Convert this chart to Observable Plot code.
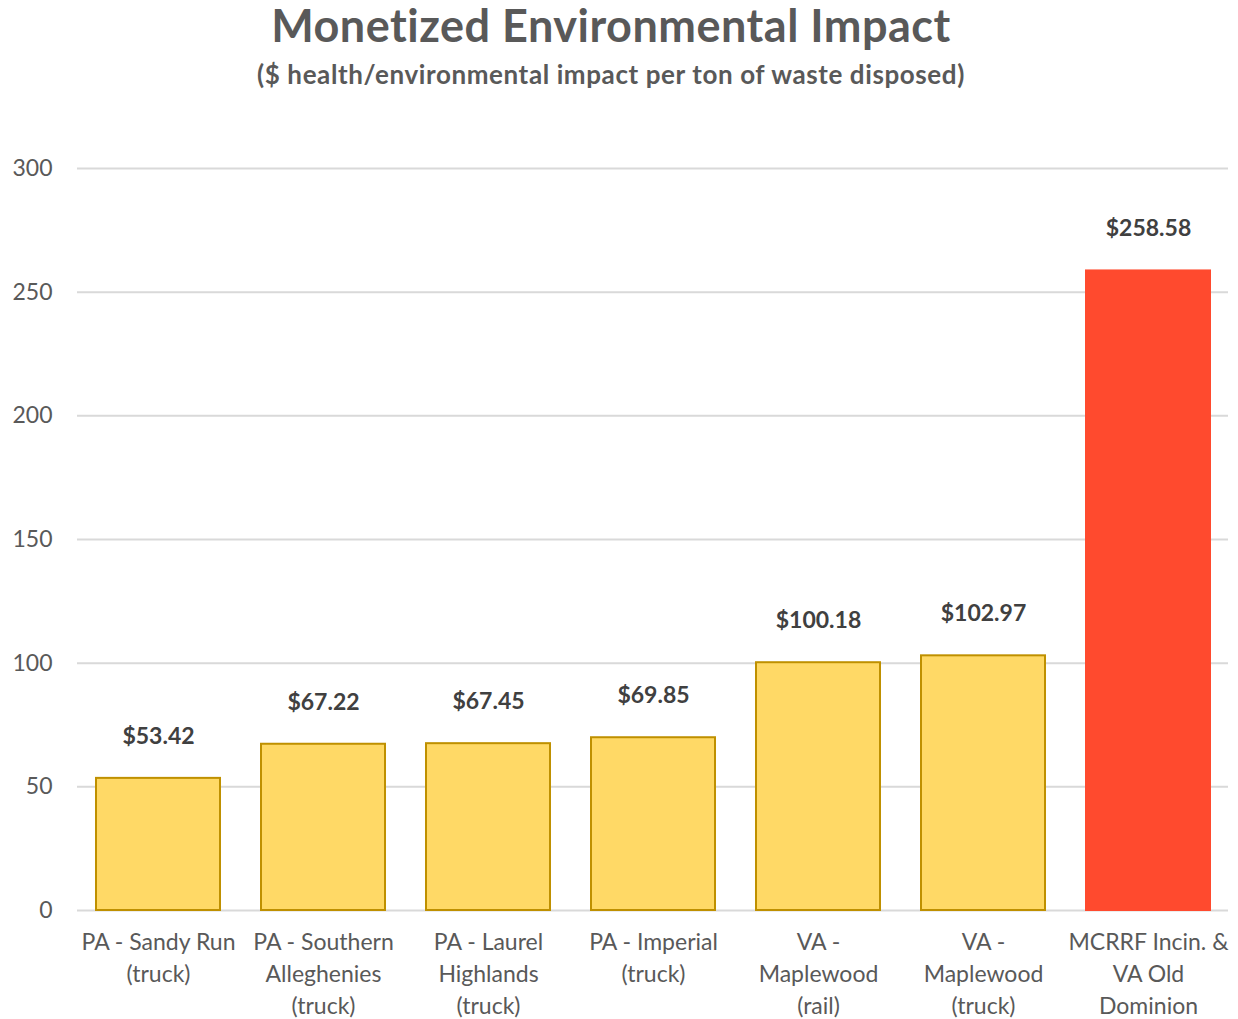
<!DOCTYPE html>
<html>
<head>
<meta charset="utf-8">
<script src="https://cdn.jsdelivr.net/npm/d3@7"></script>
<script src="https://cdn.jsdelivr.net/npm/@observablehq/plot@0.6"></script>
<style>
  body { margin: 0; background: #fff; font-family: Lato, "Open Sans", sans-serif; }
  #wrap { width: 1238px; }
  h1 { margin: 0; padding-right: 16px; font-size: 45px; line-height: 50px; font-weight: 700; color: #595959; text-align: center; letter-spacing: 0.5px; }
  h2 { margin: 9px 0 0 0; padding-right: 16px; font-size: 26px; line-height: 30px; font-weight: 700; color: #595959; text-align: center; letter-spacing: 0.6px; }
</style>
</head>
<body>
<div id="wrap">
  <h1>Monetized Environmental Impact</h1>
  <h2>($ health/environmental impact per ton of waste disposed)</h2>
  <div id="chart"></div>
</div>
<script>
const categories = [
  "PA - Sandy Run\n(truck)",
  "PA - Southern\nAlleghenies\n(truck)",
  "PA - Laurel\nHighlands\n(truck)",
  "PA - Imperial\n(truck)",
  "VA -\nMaplewood\n(rail)",
  "VA -\nMaplewood\n(truck)",
  "MCRRF Incin. &\nVA Old\nDominion"
];
const values = [53.42, 67.22, 67.45, 69.85, 100.18, 102.97, 258.58];
const highlighted = ["MCRRF Incin. &\nVA Old\nDominion"];
const yTicks = [0, 50, 100, 150, 200, 250, 300];

const data = categories.map((c, i) => ({cat: c, value: values[i]}));
const isHi = d => highlighted.includes(d.cat);

const chart = Plot.plot({
  width: 1238,
  height: 930,
  marginTop: 79,
  marginBottom: 109,
  marginLeft: 77,
  marginRight: 10,
  style: {fontFamily: "Lato, 'Open Sans', sans-serif", background: "#fff"},
  x: {domain: categories, paddingInner: 0.25, paddingOuter: 0.1, axis: null},
  y: {domain: [0, 300], axis: null},
  marks: [
    Plot.ruleY(yTicks, {stroke: "#D9D9D9", strokeWidth: 2}),
    Plot.text(yTicks, {y: d => d, frameAnchor: "left", dx: -25, textAnchor: "end", text: d => String(d), fontSize: 23, fill: "#595959"}),
    Plot.barY(data, {x: "cat", y: "value", fill: d => isHi(d) ? "#FF4A2E" : "#FFD966", stroke: d => isHi(d) ? "#FF4A2E" : "#BF9000", strokeWidth: 2}),
    Plot.text(data, {x: "cat", y: "value", text: d => "$" + d.value.toFixed(2), dy: -42, fontSize: 23, fontWeight: 700, fill: "#404040"}),
    Plot.text(data, {x: "cat", y: () => 0, text: "cat", lineAnchor: "top", dy: 17, fontSize: 23, lineHeight: 1.39, fill: "#595959"})
  ]
});
document.getElementById("chart").appendChild(chart);
</script>
</body>
</html>
